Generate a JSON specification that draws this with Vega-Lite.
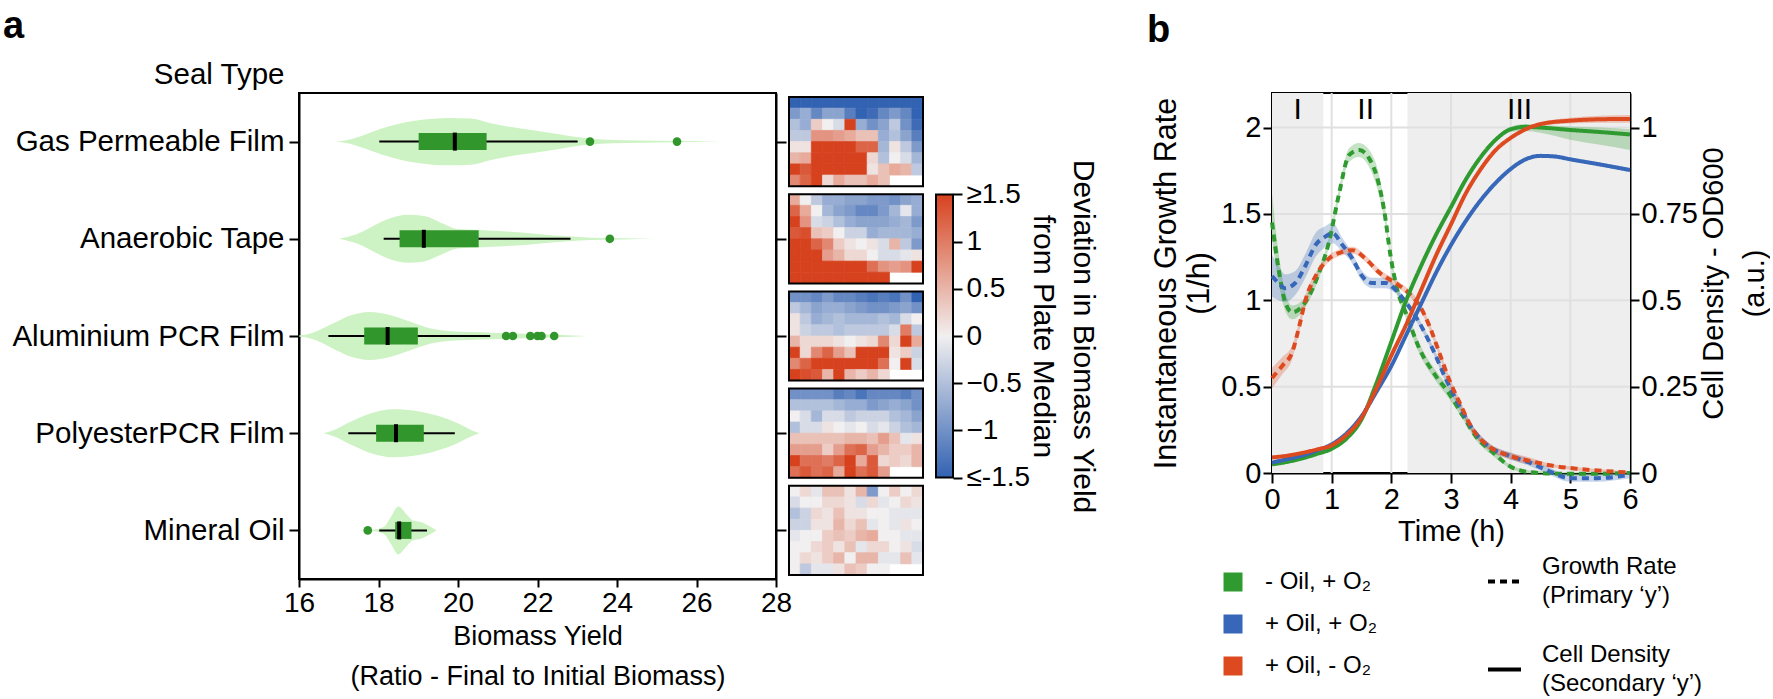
{
"$schema": "https://vega.github.io/schema/vega-lite/v6.json",
"background": "white",
"padding": {"left": 2, "top": 7, "right": 0, "bottom": 0},
"bounds": "flush",
"spacing": 13,
"config": {
  "font": "Liberation Sans",
  "view": {"stroke": "black", "strokeWidth": 2},
  "axis": {"domainColor": "black", "domainWidth": 2, "tickColor": "black", "tickWidth": 2, "labelColor": "black", "titleColor": "black", "grid": false, "titleFontWeight": "normal", "labelFont": "Liberation Sans", "titleFont": "Liberation Sans", "labelLimit": 400},
  "title": {"font": "Liberation Sans", "color": "black"},
  "legend": {"labelFont": "Liberation Sans", "labelColor": "black"},
  "text": {"font": "Liberation Sans"}
},
"resolve": {"scale": {"x": "independent", "y": "independent", "fill": "independent", "stroke": "independent", "color": "independent", "strokeDash": "independent"}, "legend": {"fill": "independent", "stroke": "independent", "color": "independent", "strokeDash": "independent"}},
"datasets": {
  "violin": [
    {"s":4,"x":16.93,"lo":4,"hi":4},{"s":4,"x":17.22,"lo":3.983,"hi":4.017},{"s":4,"x":17.64,"lo":3.931,"hi":4.069},{"s":4,"x":18.06,"lo":3.869,"hi":4.131},{"s":4,"x":18.57,"lo":3.811,"hi":4.189},{"s":4,"x":19.15,"lo":3.773,"hi":4.227},{"s":4,"x":19.74,"lo":3.756,"hi":4.244},{"s":4,"x":20.33,"lo":3.763,"hi":4.237},{"s":4,"x":20.83,"lo":3.811,"hi":4.189},{"s":4,"x":21.25,"lo":3.845,"hi":4.155},{"s":4,"x":21.84,"lo":3.88,"hi":4.12},{"s":4,"x":22.51,"lo":3.921,"hi":4.079},{"s":4,"x":23.09,"lo":3.959,"hi":4.041},{"s":4,"x":23.6,"lo":3.979,"hi":4.021},{"s":4,"x":24.18,"lo":3.986,"hi":4.014},{"s":4,"x":25.02,"lo":3.991,"hi":4.009},{"s":4,"x":25.86,"lo":3.995,"hi":4.005},{"s":4,"x":26.62,"lo":4,"hi":4},
    {"s":3,"x":17.01,"lo":3,"hi":3},{"s":3,"x":17.48,"lo":2.948,"hi":3.052},{"s":3,"x":17.98,"lo":2.845,"hi":3.155},{"s":3,"x":18.31,"lo":2.787,"hi":3.213},{"s":3,"x":18.73,"lo":2.753,"hi":3.247},{"s":3,"x":19.15,"lo":2.766,"hi":3.234},{"s":3,"x":19.57,"lo":2.835,"hi":3.165},{"s":3,"x":19.99,"lo":2.9,"hi":3.1},{"s":3,"x":20.49,"lo":2.91,"hi":3.09},{"s":3,"x":21.25,"lo":2.925,"hi":3.075},{"s":3,"x":22.09,"lo":2.952,"hi":3.048},{"s":3,"x":22.76,"lo":2.975,"hi":3.025},{"s":3,"x":23.35,"lo":2.988,"hi":3.012},{"s":3,"x":24.18,"lo":2.994,"hi":3.006},{"s":3,"x":24.94,"lo":3,"hi":3},
    {"s":2,"x":16.0,"lo":1.995,"hi":2.005},{"s":2,"x":16.3,"lo":1.973,"hi":2.027},{"s":2,"x":16.81,"lo":1.88,"hi":2.12},{"s":2,"x":17.31,"lo":1.787,"hi":2.213},{"s":2,"x":17.77,"lo":1.753,"hi":2.247},{"s":2,"x":18.31,"lo":1.787,"hi":2.213},{"s":2,"x":18.82,"lo":1.856,"hi":2.144},{"s":2,"x":19.32,"lo":1.924,"hi":2.076},{"s":2,"x":19.82,"lo":1.952,"hi":2.048},{"s":2,"x":20.33,"lo":1.959,"hi":2.041},{"s":2,"x":20.83,"lo":1.966,"hi":2.034},{"s":2,"x":21.67,"lo":1.976,"hi":2.024},{"s":2,"x":22.51,"lo":1.986,"hi":2.014},{"s":2,"x":23.26,"lo":2,"hi":2},
    {"s":1,"x":16.62,"lo":1,"hi":1},{"s":1,"x":16.89,"lo":0.966,"hi":1.034},{"s":1,"x":17.31,"lo":0.88,"hi":1.12},{"s":1,"x":17.81,"lo":0.794,"hi":1.206},{"s":1,"x":18.36,"lo":0.753,"hi":1.247},{"s":1,"x":18.99,"lo":0.773,"hi":1.227},{"s":1,"x":19.49,"lo":0.821,"hi":1.179},{"s":1,"x":19.99,"lo":0.897,"hi":1.103},{"s":1,"x":20.33,"lo":0.966,"hi":1.034},{"s":1,"x":20.54,"lo":1,"hi":1},
    {"s":0,"x":17.48,"lo":0,"hi":0},{"s":0,"x":17.9,"lo":-0.01,"hi":0.01},{"s":0,"x":18.15,"lo":-0.041,"hi":0.041},{"s":0,"x":18.31,"lo":-0.137,"hi":0.137},{"s":0,"x":18.5,"lo":-0.247,"hi":0.247},{"s":0,"x":18.69,"lo":-0.172,"hi":0.172},{"s":0,"x":18.86,"lo":-0.103,"hi":0.103},{"s":0,"x":19.07,"lo":-0.086,"hi":0.086},{"s":0,"x":19.24,"lo":-0.052,"hi":0.052},{"s":0,"x":19.46,"lo":0,"hi":0}
  ],
  "box": [
    {"s":4,"wlo":18.02,"q1":19.01,"med":19.92,"q3":20.72,"whi":23.01},
    {"s":3,"wlo":18.13,"q1":18.53,"med":19.14,"q3":20.52,"whi":22.83},
    {"s":2,"wlo":16.74,"q1":17.64,"med":18.23,"q3":18.99,"whi":20.81},
    {"s":1,"wlo":17.24,"q1":17.94,"med":18.44,"q3":19.14,"whi":19.92},
    {"s":0,"wlo":18.02,"q1":18.42,"med":18.52,"q3":18.83,"whi":19.22}
  ],
  "outliers": [
    {"s":4,"x":23.32},{"s":4,"x":25.51},{"s":3,"x":23.82},
    {"s":2,"x":21.21},{"s":2,"x":21.38},{"s":2,"x":21.82},{"s":2,"x":22.0},{"s":2,"x":22.1},{"s":2,"x":22.42},
    {"s":0,"x":17.73}
  ],
  "frames": [{"p":1},{"p":2},{"p":3},{"p":4},{"p":5}],
  "plates": [
{"p":1,"r":"A","c":1,"v":-1.5},{"p":1,"r":"A","c":2,"v":-1.5},{"p":1,"r":"A","c":3,"v":-1.5},{"p":1,"r":"A","c":4,"v":-1.5},{"p":1,"r":"A","c":5,"v":-1.5},{"p":1,"r":"A","c":6,"v":-1.5},{"p":1,"r":"A","c":7,"v":-1.5},{"p":1,"r":"A","c":8,"v":-1.5},{"p":1,"r":"A","c":9,"v":-1.5},{"p":1,"r":"A","c":10,"v":-1.5},{"p":1,"r":"A","c":11,"v":-1.5},{"p":1,"r":"A","c":12,"v":-1.5},
{"p":1,"r":"B","c":1,"v":-0.9},{"p":1,"r":"B","c":2,"v":-0.7},{"p":1,"r":"B","c":3,"v":-1.1},{"p":1,"r":"B","c":4,"v":-0.8},{"p":1,"r":"B","c":5,"v":-0.8},{"p":1,"r":"B","c":6,"v":-1.2},{"p":1,"r":"B","c":7,"v":-1.5},{"p":1,"r":"B","c":8,"v":-1.4},{"p":1,"r":"B","c":9,"v":-1.1},{"p":1,"r":"B","c":10,"v":-0.9},{"p":1,"r":"B","c":11,"v":-1.1},{"p":1,"r":"B","c":12,"v":-1.5},
{"p":1,"r":"C","c":1,"v":-0.5},{"p":1,"r":"C","c":2,"v":-0.7},{"p":1,"r":"C","c":3,"v":0.3},{"p":1,"r":"C","c":4,"v":0},{"p":1,"r":"C","c":5,"v":-0.2},{"p":1,"r":"C","c":6,"v":1.5},{"p":1,"r":"C","c":7,"v":-0.7},{"p":1,"r":"C","c":8,"v":-1},{"p":1,"r":"C","c":9,"v":-0.8},{"p":1,"r":"C","c":10,"v":-0.4},{"p":1,"r":"C","c":11,"v":-1},{"p":1,"r":"C","c":12,"v":-1.4},
{"p":1,"r":"D","c":1,"v":-0.4},{"p":1,"r":"D","c":2,"v":-0.4},{"p":1,"r":"D","c":3,"v":0.8},{"p":1,"r":"D","c":4,"v":0.8},{"p":1,"r":"D","c":5,"v":0.7},{"p":1,"r":"D","c":6,"v":0.6},{"p":1,"r":"D","c":7,"v":0.4},{"p":1,"r":"D","c":8,"v":0.4},{"p":1,"r":"D","c":9,"v":-0.7},{"p":1,"r":"D","c":10,"v":-0.5},{"p":1,"r":"D","c":11,"v":-0.8},{"p":1,"r":"D","c":12,"v":-1.2},
{"p":1,"r":"E","c":1,"v":0.1},{"p":1,"r":"E","c":2,"v":0.1},{"p":1,"r":"E","c":3,"v":1.5},{"p":1,"r":"E","c":4,"v":1.5},{"p":1,"r":"E","c":5,"v":1.5},{"p":1,"r":"E","c":6,"v":1.5},{"p":1,"r":"E","c":7,"v":1.2},{"p":1,"r":"E","c":8,"v":1.2},{"p":1,"r":"E","c":9,"v":-0.6},{"p":1,"r":"E","c":10,"v":0.1},{"p":1,"r":"E","c":11,"v":-0.4},{"p":1,"r":"E","c":12,"v":-0.9},
{"p":1,"r":"F","c":1,"v":0.5},{"p":1,"r":"F","c":2,"v":0.6},{"p":1,"r":"F","c":3,"v":1.5},{"p":1,"r":"F","c":4,"v":1.5},{"p":1,"r":"F","c":5,"v":1.5},{"p":1,"r":"F","c":6,"v":1.5},{"p":1,"r":"F","c":7,"v":1.5},{"p":1,"r":"F","c":8,"v":0.2},{"p":1,"r":"F","c":9,"v":-0.5},{"p":1,"r":"F","c":10,"v":0},{"p":1,"r":"F","c":11,"v":-0.2},{"p":1,"r":"F","c":12,"v":-0.6},
{"p":1,"r":"G","c":1,"v":1.5},{"p":1,"r":"G","c":2,"v":1.3},{"p":1,"r":"G","c":3,"v":1.5},{"p":1,"r":"G","c":4,"v":1.5},{"p":1,"r":"G","c":5,"v":1.5},{"p":1,"r":"G","c":6,"v":1.5},{"p":1,"r":"G","c":7,"v":1.5},{"p":1,"r":"G","c":8,"v":0.1},{"p":1,"r":"G","c":9,"v":0.4},{"p":1,"r":"G","c":10,"v":0.6},{"p":1,"r":"G","c":11,"v":0.5},{"p":1,"r":"G","c":12,"v":-0.4},
{"p":1,"r":"H","c":1,"v":0.9},{"p":1,"r":"H","c":2,"v":1.2},{"p":1,"r":"H","c":3,"v":1.5},{"p":1,"r":"H","c":4,"v":0.2},{"p":1,"r":"H","c":5,"v":0.6},{"p":1,"r":"H","c":6,"v":0.4},{"p":1,"r":"H","c":7,"v":0.4},{"p":1,"r":"H","c":8,"v":0.6},{"p":1,"r":"H","c":9,"v":0.4},
{"p":2,"r":"A","c":1,"v":0.6},{"p":2,"r":"A","c":2,"v":0},{"p":2,"r":"A","c":3,"v":-0.4},{"p":2,"r":"A","c":4,"v":-0.7},{"p":2,"r":"A","c":5,"v":-0.7},{"p":2,"r":"A","c":6,"v":-0.8},{"p":2,"r":"A","c":7,"v":-0.8},{"p":2,"r":"A","c":8,"v":-0.9},{"p":2,"r":"A","c":9,"v":-0.9},{"p":2,"r":"A","c":10,"v":-1},{"p":2,"r":"A","c":11,"v":-0.8},{"p":2,"r":"A","c":12,"v":-0.7},
{"p":2,"r":"B","c":1,"v":1.2},{"p":2,"r":"B","c":2,"v":0.6},{"p":2,"r":"B","c":3,"v":0},{"p":2,"r":"B","c":4,"v":-0.6},{"p":2,"r":"B","c":5,"v":-0.8},{"p":2,"r":"B","c":6,"v":-0.9},{"p":2,"r":"B","c":7,"v":-1.1},{"p":2,"r":"B","c":8,"v":-1.1},{"p":2,"r":"B","c":9,"v":-0.9},{"p":2,"r":"B","c":10,"v":-0.6},{"p":2,"r":"B","c":11,"v":-0.1},{"p":2,"r":"B","c":12,"v":-0.7},
{"p":2,"r":"C","c":1,"v":1.5},{"p":2,"r":"C","c":2,"v":0.8},{"p":2,"r":"C","c":3,"v":-0.2},{"p":2,"r":"C","c":4,"v":-0.3},{"p":2,"r":"C","c":5,"v":-0.5},{"p":2,"r":"C","c":6,"v":-0.7},{"p":2,"r":"C","c":7,"v":-0.8},{"p":2,"r":"C","c":8,"v":-0.8},{"p":2,"r":"C","c":9,"v":-0.8},{"p":2,"r":"C","c":10,"v":-0.7},{"p":2,"r":"C","c":11,"v":-0.6},{"p":2,"r":"C","c":12,"v":-0.9},
{"p":2,"r":"D","c":1,"v":1.3},{"p":2,"r":"D","c":2,"v":1.4},{"p":2,"r":"D","c":3,"v":0.4},{"p":2,"r":"D","c":4,"v":0.3},{"p":2,"r":"D","c":5,"v":0},{"p":2,"r":"D","c":6,"v":-0.3},{"p":2,"r":"D","c":7,"v":-0.3},{"p":2,"r":"D","c":8,"v":-0.7},{"p":2,"r":"D","c":9,"v":-0.6},{"p":2,"r":"D","c":10,"v":-0.6},{"p":2,"r":"D","c":11,"v":-0.6},{"p":2,"r":"D","c":12,"v":-0.7},
{"p":2,"r":"E","c":1,"v":1.5},{"p":2,"r":"E","c":2,"v":1.5},{"p":2,"r":"E","c":3,"v":1.2},{"p":2,"r":"E","c":4,"v":0.9},{"p":2,"r":"E","c":5,"v":0.3},{"p":2,"r":"E","c":6,"v":0.1},{"p":2,"r":"E","c":7,"v":0},{"p":2,"r":"E","c":8,"v":0.1},{"p":2,"r":"E","c":9,"v":-0.2},{"p":2,"r":"E","c":10,"v":0.5},{"p":2,"r":"E","c":11,"v":-0.4},{"p":2,"r":"E","c":12,"v":-0.9},
{"p":2,"r":"F","c":1,"v":1.5},{"p":2,"r":"F","c":2,"v":1.5},{"p":2,"r":"F","c":3,"v":1.5},{"p":2,"r":"F","c":4,"v":0.7},{"p":2,"r":"F","c":5,"v":0.5},{"p":2,"r":"F","c":6,"v":0.2},{"p":2,"r":"F","c":7,"v":0.2},{"p":2,"r":"F","c":8,"v":0},{"p":2,"r":"F","c":9,"v":-0.2},{"p":2,"r":"F","c":10,"v":-0.2},{"p":2,"r":"F","c":11,"v":-0.1},{"p":2,"r":"F","c":12,"v":0.1},
{"p":2,"r":"G","c":1,"v":1.5},{"p":2,"r":"G","c":2,"v":1.5},{"p":2,"r":"G","c":3,"v":1.5},{"p":2,"r":"G","c":4,"v":1.5},{"p":2,"r":"G","c":5,"v":1.5},{"p":2,"r":"G","c":6,"v":1.5},{"p":2,"r":"G","c":7,"v":1.5},{"p":2,"r":"G","c":8,"v":1.1},{"p":2,"r":"G","c":9,"v":0.8},{"p":2,"r":"G","c":10,"v":0.7},{"p":2,"r":"G","c":11,"v":0.8},{"p":2,"r":"G","c":12,"v":1.5},
{"p":2,"r":"H","c":1,"v":1.5},{"p":2,"r":"H","c":2,"v":1.5},{"p":2,"r":"H","c":3,"v":1.5},{"p":2,"r":"H","c":4,"v":1.5},{"p":2,"r":"H","c":5,"v":1.5},{"p":2,"r":"H","c":6,"v":1.5},{"p":2,"r":"H","c":7,"v":1.5},{"p":2,"r":"H","c":8,"v":1.5},{"p":2,"r":"H","c":9,"v":1.5},
{"p":3,"r":"A","c":1,"v":-1},{"p":3,"r":"A","c":2,"v":-1},{"p":3,"r":"A","c":3,"v":-1.1},{"p":3,"r":"A","c":4,"v":-0.9},{"p":3,"r":"A","c":5,"v":-1.1},{"p":3,"r":"A","c":6,"v":-1.1},{"p":3,"r":"A","c":7,"v":-1.2},{"p":3,"r":"A","c":8,"v":-1.3},{"p":3,"r":"A","c":9,"v":-1.2},{"p":3,"r":"A","c":10,"v":-1.3},{"p":3,"r":"A","c":11,"v":-1},{"p":3,"r":"A","c":12,"v":-1.5},
{"p":3,"r":"B","c":1,"v":-0.4},{"p":3,"r":"B","c":2,"v":-0.6},{"p":3,"r":"B","c":3,"v":-0.8},{"p":3,"r":"B","c":4,"v":-0.7},{"p":3,"r":"B","c":5,"v":-0.7},{"p":3,"r":"B","c":6,"v":-0.8},{"p":3,"r":"B","c":7,"v":-0.9},{"p":3,"r":"B","c":8,"v":-1},{"p":3,"r":"B","c":9,"v":-1},{"p":3,"r":"B","c":10,"v":-0.9},{"p":3,"r":"B","c":11,"v":-0.8},{"p":3,"r":"B","c":12,"v":-1},
{"p":3,"r":"C","c":1,"v":0.1},{"p":3,"r":"C","c":2,"v":-0.4},{"p":3,"r":"C","c":3,"v":-0.7},{"p":3,"r":"C","c":4,"v":-0.6},{"p":3,"r":"C","c":5,"v":-0.5},{"p":3,"r":"C","c":6,"v":-0.6},{"p":3,"r":"C","c":7,"v":-0.6},{"p":3,"r":"C","c":8,"v":-0.6},{"p":3,"r":"C","c":9,"v":-0.5},{"p":3,"r":"C","c":10,"v":-0.6},{"p":3,"r":"C","c":11,"v":-0.2},{"p":3,"r":"C","c":12,"v":0},
{"p":3,"r":"D","c":1,"v":0.1},{"p":3,"r":"D","c":2,"v":-0.3},{"p":3,"r":"D","c":3,"v":-0.4},{"p":3,"r":"D","c":4,"v":-0.4},{"p":3,"r":"D","c":5,"v":-0.5},{"p":3,"r":"D","c":6,"v":-0.4},{"p":3,"r":"D","c":7,"v":-0.4},{"p":3,"r":"D","c":8,"v":-0.4},{"p":3,"r":"D","c":9,"v":-0.4},{"p":3,"r":"D","c":10,"v":-0.2},{"p":3,"r":"D","c":11,"v":1},{"p":3,"r":"D","c":12,"v":-0.4},
{"p":3,"r":"E","c":1,"v":0.5},{"p":3,"r":"E","c":2,"v":0.2},{"p":3,"r":"E","c":3,"v":0.2},{"p":3,"r":"E","c":4,"v":0.2},{"p":3,"r":"E","c":5,"v":0.1},{"p":3,"r":"E","c":6,"v":0},{"p":3,"r":"E","c":7,"v":0.1},{"p":3,"r":"E","c":8,"v":0.2},{"p":3,"r":"E","c":9,"v":0.9},{"p":3,"r":"E","c":10,"v":0.2},{"p":3,"r":"E","c":11,"v":1.5},{"p":3,"r":"E","c":12,"v":0.6},
{"p":3,"r":"F","c":1,"v":1.5},{"p":3,"r":"F","c":2,"v":0.2},{"p":3,"r":"F","c":3,"v":0.9},{"p":3,"r":"F","c":4,"v":1.2},{"p":3,"r":"F","c":5,"v":0.7},{"p":3,"r":"F","c":6,"v":0.4},{"p":3,"r":"F","c":7,"v":1.5},{"p":3,"r":"F","c":8,"v":1.5},{"p":3,"r":"F","c":9,"v":1.5},{"p":3,"r":"F","c":10,"v":0.1},{"p":3,"r":"F","c":11,"v":0.3},{"p":3,"r":"F","c":12,"v":-0.3},
{"p":3,"r":"G","c":1,"v":0.9},{"p":3,"r":"G","c":2,"v":1.2},{"p":3,"r":"G","c":3,"v":1.5},{"p":3,"r":"G","c":4,"v":1.5},{"p":3,"r":"G","c":5,"v":1.5},{"p":3,"r":"G","c":6,"v":1.5},{"p":3,"r":"G","c":7,"v":1.5},{"p":3,"r":"G","c":8,"v":1.5},{"p":3,"r":"G","c":9,"v":1.1},{"p":3,"r":"G","c":10,"v":0},{"p":3,"r":"G","c":11,"v":1.5},{"p":3,"r":"G","c":12,"v":-0.2},
{"p":3,"r":"H","c":1,"v":1.5},{"p":3,"r":"H","c":2,"v":1.4},{"p":3,"r":"H","c":3,"v":1.3},{"p":3,"r":"H","c":4,"v":0.5},{"p":3,"r":"H","c":5,"v":1.5},{"p":3,"r":"H","c":6,"v":0.5},{"p":3,"r":"H","c":7,"v":0.3},{"p":3,"r":"H","c":8,"v":0.5},{"p":3,"r":"H","c":9,"v":0.2},
{"p":4,"r":"A","c":1,"v":-1},{"p":4,"r":"A","c":2,"v":-1},{"p":4,"r":"A","c":3,"v":-1},{"p":4,"r":"A","c":4,"v":-1},{"p":4,"r":"A","c":5,"v":-1.2},{"p":4,"r":"A","c":6,"v":-1.1},{"p":4,"r":"A","c":7,"v":-1.3},{"p":4,"r":"A","c":8,"v":-1.1},{"p":4,"r":"A","c":9,"v":-1.1},{"p":4,"r":"A","c":10,"v":-1.1},{"p":4,"r":"A","c":11,"v":-1.2},{"p":4,"r":"A","c":12,"v":-1},
{"p":4,"r":"B","c":1,"v":-0.5},{"p":4,"r":"B","c":2,"v":-0.5},{"p":4,"r":"B","c":3,"v":-0.5},{"p":4,"r":"B","c":4,"v":-0.5},{"p":4,"r":"B","c":5,"v":-0.6},{"p":4,"r":"B","c":6,"v":-0.7},{"p":4,"r":"B","c":7,"v":-0.7},{"p":4,"r":"B","c":8,"v":-0.9},{"p":4,"r":"B","c":9,"v":-0.8},{"p":4,"r":"B","c":10,"v":-0.7},{"p":4,"r":"B","c":11,"v":-0.8},{"p":4,"r":"B","c":12,"v":-1},
{"p":4,"r":"C","c":1,"v":0},{"p":4,"r":"C","c":2,"v":-0.2},{"p":4,"r":"C","c":3,"v":-0.6},{"p":4,"r":"C","c":4,"v":-0.2},{"p":4,"r":"C","c":5,"v":-0.2},{"p":4,"r":"C","c":6,"v":-0.4},{"p":4,"r":"C","c":7,"v":-0.3},{"p":4,"r":"C","c":8,"v":-0.3},{"p":4,"r":"C","c":9,"v":-0.3},{"p":4,"r":"C","c":10,"v":-0.5},{"p":4,"r":"C","c":11,"v":-0.6},{"p":4,"r":"C","c":12,"v":-0.8},
{"p":4,"r":"D","c":1,"v":-0.5},{"p":4,"r":"D","c":2,"v":-0.2},{"p":4,"r":"D","c":3,"v":-0.2},{"p":4,"r":"D","c":4,"v":0.1},{"p":4,"r":"D","c":5,"v":0},{"p":4,"r":"D","c":6,"v":-0.1},{"p":4,"r":"D","c":7,"v":0},{"p":4,"r":"D","c":8,"v":-0.2},{"p":4,"r":"D","c":9,"v":-0.1},{"p":4,"r":"D","c":10,"v":-0.3},{"p":4,"r":"D","c":11,"v":-0.5},{"p":4,"r":"D","c":12,"v":-0.6},
{"p":4,"r":"E","c":1,"v":0.4},{"p":4,"r":"E","c":2,"v":0.4},{"p":4,"r":"E","c":3,"v":0.4},{"p":4,"r":"E","c":4,"v":0.4},{"p":4,"r":"E","c":5,"v":0.4},{"p":4,"r":"E","c":6,"v":0.5},{"p":4,"r":"E","c":7,"v":0.5},{"p":4,"r":"E","c":8,"v":0.4},{"p":4,"r":"E","c":9,"v":0.7},{"p":4,"r":"E","c":10,"v":0.4},{"p":4,"r":"E","c":11,"v":-0.1},{"p":4,"r":"E","c":12,"v":0.1},
{"p":4,"r":"F","c":1,"v":0.7},{"p":4,"r":"F","c":2,"v":0.7},{"p":4,"r":"F","c":3,"v":0.7},{"p":4,"r":"F","c":4,"v":0.3},{"p":4,"r":"F","c":5,"v":0.7},{"p":4,"r":"F","c":6,"v":1.1},{"p":4,"r":"F","c":7,"v":1.2},{"p":4,"r":"F","c":8,"v":0.7},{"p":4,"r":"F","c":9,"v":0.5},{"p":4,"r":"F","c":10,"v":0.3},{"p":4,"r":"F","c":11,"v":0.3},{"p":4,"r":"F","c":12,"v":0.5},
{"p":4,"r":"G","c":1,"v":1.5},{"p":4,"r":"G","c":2,"v":1.1},{"p":4,"r":"G","c":3,"v":1.1},{"p":4,"r":"G","c":4,"v":1},{"p":4,"r":"G","c":5,"v":1.2},{"p":4,"r":"G","c":6,"v":1.5},{"p":4,"r":"G","c":7,"v":0.6},{"p":4,"r":"G","c":8,"v":1.3},{"p":4,"r":"G","c":9,"v":0.2},{"p":4,"r":"G","c":10,"v":0.3},{"p":4,"r":"G","c":11,"v":0.2},{"p":4,"r":"G","c":12,"v":0.5},
{"p":4,"r":"H","c":1,"v":1.1},{"p":4,"r":"H","c":2,"v":1.3},{"p":4,"r":"H","c":3,"v":1.1},{"p":4,"r":"H","c":4,"v":1.2},{"p":4,"r":"H","c":5,"v":0.6},{"p":4,"r":"H","c":6,"v":1.5},{"p":4,"r":"H","c":7,"v":1.1},{"p":4,"r":"H","c":8,"v":1.3},{"p":4,"r":"H","c":9,"v":0.7},
{"p":5,"r":"A","c":1,"v":0},{"p":5,"r":"A","c":2,"v":0.2},{"p":5,"r":"A","c":3,"v":-0.1},{"p":5,"r":"A","c":4,"v":0.4},{"p":5,"r":"A","c":5,"v":0.4},{"p":5,"r":"A","c":6,"v":0.1},{"p":5,"r":"A","c":7,"v":0.5},{"p":5,"r":"A","c":8,"v":-0.9},{"p":5,"r":"A","c":9,"v":0},{"p":5,"r":"A","c":10,"v":0.3},{"p":5,"r":"A","c":11,"v":0},{"p":5,"r":"A","c":12,"v":0.2},
{"p":5,"r":"B","c":1,"v":-0.2},{"p":5,"r":"B","c":2,"v":0},{"p":5,"r":"B","c":3,"v":0},{"p":5,"r":"B","c":4,"v":0.2},{"p":5,"r":"B","c":5,"v":0.2},{"p":5,"r":"B","c":6,"v":0.1},{"p":5,"r":"B","c":7,"v":-0.2},{"p":5,"r":"B","c":8,"v":0.2},{"p":5,"r":"B","c":9,"v":-0.1},{"p":5,"r":"B","c":10,"v":0},{"p":5,"r":"B","c":11,"v":0.2},{"p":5,"r":"B","c":12,"v":0.1},
{"p":5,"r":"C","c":1,"v":-0.5},{"p":5,"r":"C","c":2,"v":-0.3},{"p":5,"r":"C","c":3,"v":0.2},{"p":5,"r":"C","c":4,"v":0.1},{"p":5,"r":"C","c":5,"v":0.4},{"p":5,"r":"C","c":6,"v":0.1},{"p":5,"r":"C","c":7,"v":0.1},{"p":5,"r":"C","c":8,"v":0},{"p":5,"r":"C","c":9,"v":0},{"p":5,"r":"C","c":10,"v":-0.1},{"p":5,"r":"C","c":11,"v":-0.1},{"p":5,"r":"C","c":12,"v":-0.1},
{"p":5,"r":"D","c":1,"v":-0.3},{"p":5,"r":"D","c":2,"v":-0.3},{"p":5,"r":"D","c":3,"v":0.1},{"p":5,"r":"D","c":4,"v":0.1},{"p":5,"r":"D","c":5,"v":0.5},{"p":5,"r":"D","c":6,"v":0.2},{"p":5,"r":"D","c":7,"v":0.4},{"p":5,"r":"D","c":8,"v":-0.1},{"p":5,"r":"D","c":9,"v":0},{"p":5,"r":"D","c":10,"v":-0.1},{"p":5,"r":"D","c":11,"v":0.1},{"p":5,"r":"D","c":12,"v":0},
{"p":5,"r":"E","c":1,"v":-0.1},{"p":5,"r":"E","c":2,"v":0},{"p":5,"r":"E","c":3,"v":0},{"p":5,"r":"E","c":4,"v":0.3},{"p":5,"r":"E","c":5,"v":0.4},{"p":5,"r":"E","c":6,"v":0.3},{"p":5,"r":"E","c":7,"v":0.5},{"p":5,"r":"E","c":8,"v":0.6},{"p":5,"r":"E","c":9,"v":0},{"p":5,"r":"E","c":10,"v":0},{"p":5,"r":"E","c":11,"v":-0.1},{"p":5,"r":"E","c":12,"v":-0.1},
{"p":5,"r":"F","c":1,"v":0},{"p":5,"r":"F","c":2,"v":0},{"p":5,"r":"F","c":3,"v":0.2},{"p":5,"r":"F","c":4,"v":0.3},{"p":5,"r":"F","c":5,"v":0.1},{"p":5,"r":"F","c":6,"v":0.4},{"p":5,"r":"F","c":7,"v":-0.1},{"p":5,"r":"F","c":8,"v":0.2},{"p":5,"r":"F","c":9,"v":0.2},{"p":5,"r":"F","c":10,"v":0},{"p":5,"r":"F","c":11,"v":0.1},{"p":5,"r":"F","c":12,"v":-0.2},
{"p":5,"r":"G","c":1,"v":0},{"p":5,"r":"G","c":2,"v":0.2},{"p":5,"r":"G","c":3,"v":0.1},{"p":5,"r":"G","c":4,"v":0.3},{"p":5,"r":"G","c":5,"v":0.5},{"p":5,"r":"G","c":6,"v":0},{"p":5,"r":"G","c":7,"v":0.5},{"p":5,"r":"G","c":8,"v":0.5},{"p":5,"r":"G","c":9,"v":-0.1},{"p":5,"r":"G","c":10,"v":-0.1},{"p":5,"r":"G","c":11,"v":0.4},{"p":5,"r":"G","c":12,"v":-0.1},
{"p":5,"r":"H","c":1,"v":0},{"p":5,"r":"H","c":2,"v":-0.4},{"p":5,"r":"H","c":3,"v":-0.1},{"p":5,"r":"H","c":4,"v":-0.1},{"p":5,"r":"H","c":5,"v":0.1},{"p":5,"r":"H","c":6,"v":0.4},{"p":5,"r":"H","c":7,"v":0.3},{"p":5,"r":"H","c":8,"v":0},{"p":5,"r":"H","c":9,"v":0}
  ],
  "phases": [{"t0":0,"t1":0.86},{"t0":2.27,"t1":6}],
  "gridx": [{"t":1},{"t":2},{"t":3},{"t":4},{"t":5}],
  "gridy": [{"g":0.5},{"g":1},{"g":1.5},{"g":2}],
  "phaselabels": [{"t":0.43,"g":2.1,"txt":"I"},{"t":1.57,"g":2.1,"txt":"II"},{"t":4.15,"g":2.1,"txt":"III"}],
  "growth": [
{"cond":"- Oil, + O₂","t":0,"v":1.45,"lo":1.36,"hi":1.62},{"cond":"- Oil, + O₂","t":0.11,"v":1.18,"lo":1.11,"hi":1.28},{"cond":"- Oil, + O₂","t":0.22,"v":0.99,"lo":0.94,"hi":1.05},{"cond":"- Oil, + O₂","t":0.34,"v":0.93,"lo":0.89,"hi":0.97},{"cond":"- Oil, + O₂","t":0.56,"v":0.99,"lo":0.96,"hi":1.02},{"cond":"- Oil, + O₂","t":0.79,"v":1.16,"lo":1.13,"hi":1.19},{"cond":"- Oil, + O₂","t":0.95,"v":1.33,"lo":1.3,"hi":1.36},{"cond":"- Oil, + O₂","t":1.12,"v":1.61,"lo":1.58,"hi":1.64},{"cond":"- Oil, + O₂","t":1.29,"v":1.84,"lo":1.8,"hi":1.88},{"cond":"- Oil, + O₂","t":1.46,"v":1.87,"lo":1.83,"hi":1.91},{"cond":"- Oil, + O₂","t":1.63,"v":1.82,"lo":1.77,"hi":1.87},{"cond":"- Oil, + O₂","t":1.77,"v":1.7,"lo":1.64,"hi":1.76},{"cond":"- Oil, + O₂","t":1.88,"v":1.52,"lo":1.47,"hi":1.57},{"cond":"- Oil, + O₂","t":1.99,"v":1.25,"lo":1.22,"hi":1.28},{"cond":"- Oil, + O₂","t":2.1,"v":1.06,"lo":1.03,"hi":1.09},{"cond":"- Oil, + O₂","t":2.24,"v":0.93,"lo":0.9,"hi":0.96},{"cond":"- Oil, + O₂","t":2.47,"v":0.72,"lo":0.69,"hi":0.75},{"cond":"- Oil, + O₂","t":2.75,"v":0.56,"lo":0.53,"hi":0.59},{"cond":"- Oil, + O₂","t":2.97,"v":0.46,"lo":0.43,"hi":0.49},{"cond":"- Oil, + O₂","t":3.2,"v":0.33,"lo":0.31,"hi":0.35},{"cond":"- Oil, + O₂","t":3.42,"v":0.21,"lo":0.19,"hi":0.23},{"cond":"- Oil, + O₂","t":3.7,"v":0.12,"lo":0.1,"hi":0.14},{"cond":"- Oil, + O₂","t":3.98,"v":0.04,"lo":0.03,"hi":0.05},{"cond":"- Oil, + O₂","t":4.32,"v":0.005,"lo":-0.005,"hi":0.015},{"cond":"- Oil, + O₂","t":4.88,"v":-0.005,"lo":-0.015,"hi":0.005},{"cond":"- Oil, + O₂","t":5.44,"v":-0.005,"lo":-0.015,"hi":0.005},{"cond":"- Oil, + O₂","t":6,"v":0,"lo":-0.01,"hi":0.01},
{"cond":"+ Oil, + O₂","t":0,"v":1.14,"lo":1.02,"hi":1.26},{"cond":"+ Oil, + O₂","t":0.11,"v":1.1,"lo":1.0,"hi":1.2},{"cond":"+ Oil, + O₂","t":0.22,"v":1.07,"lo":0.99,"hi":1.15},{"cond":"+ Oil, + O₂","t":0.39,"v":1.1,"lo":1.03,"hi":1.17},{"cond":"+ Oil, + O₂","t":0.56,"v":1.2,"lo":1.13,"hi":1.27},{"cond":"+ Oil, + O₂","t":0.73,"v":1.32,"lo":1.25,"hi":1.39},{"cond":"+ Oil, + O₂","t":0.9,"v":1.37,"lo":1.31,"hi":1.43},{"cond":"+ Oil, + O₂","t":1.01,"v":1.39,"lo":1.33,"hi":1.45},{"cond":"+ Oil, + O₂","t":1.18,"v":1.32,"lo":1.28,"hi":1.36},{"cond":"+ Oil, + O₂","t":1.35,"v":1.24,"lo":1.21,"hi":1.27},{"cond":"+ Oil, + O₂","t":1.51,"v":1.14,"lo":1.11,"hi":1.17},{"cond":"+ Oil, + O₂","t":1.68,"v":1.1,"lo":1.07,"hi":1.13},{"cond":"+ Oil, + O₂","t":1.91,"v":1.1,"lo":1.07,"hi":1.13},{"cond":"+ Oil, + O₂","t":2.07,"v":1.06,"lo":1.04,"hi":1.08},{"cond":"+ Oil, + O₂","t":2.24,"v":0.99,"lo":0.97,"hi":1.01},{"cond":"+ Oil, + O₂","t":2.47,"v":0.87,"lo":0.85,"hi":0.89},{"cond":"+ Oil, + O₂","t":2.69,"v":0.72,"lo":0.7,"hi":0.74},{"cond":"+ Oil, + O₂","t":2.92,"v":0.54,"lo":0.52,"hi":0.56},{"cond":"+ Oil, + O₂","t":3.14,"v":0.39,"lo":0.37,"hi":0.41},{"cond":"+ Oil, + O₂","t":3.37,"v":0.25,"lo":0.23,"hi":0.27},{"cond":"+ Oil, + O₂","t":3.65,"v":0.15,"lo":0.13,"hi":0.17},{"cond":"+ Oil, + O₂","t":3.98,"v":0.1,"lo":0.08,"hi":0.12},{"cond":"+ Oil, + O₂","t":4.32,"v":0.06,"lo":0.04,"hi":0.08},{"cond":"+ Oil, + O₂","t":4.65,"v":0.01,"lo":-0.01,"hi":0.03},{"cond":"+ Oil, + O₂","t":4.99,"v":-0.03,"lo":-0.05,"hi":-0.01},{"cond":"+ Oil, + O₂","t":5.44,"v":-0.03,"lo":-0.05,"hi":-0.01},{"cond":"+ Oil, + O₂","t":6,"v":-0.01,"lo":-0.03,"hi":0.01},
{"cond":"+ Oil, - O₂","t":0,"v":0.55,"lo":0.49,"hi":0.61},{"cond":"+ Oil, - O₂","t":0.17,"v":0.62,"lo":0.57,"hi":0.67},{"cond":"+ Oil, - O₂","t":0.34,"v":0.7,"lo":0.66,"hi":0.74},{"cond":"+ Oil, - O₂","t":0.45,"v":0.84,"lo":0.81,"hi":0.87},{"cond":"+ Oil, - O₂","t":0.56,"v":1.0,"lo":0.97,"hi":1.03},{"cond":"+ Oil, - O₂","t":0.73,"v":1.14,"lo":1.12,"hi":1.16},{"cond":"+ Oil, - O₂","t":0.95,"v":1.24,"lo":1.22,"hi":1.26},{"cond":"+ Oil, - O₂","t":1.18,"v":1.28,"lo":1.26,"hi":1.3},{"cond":"+ Oil, - O₂","t":1.35,"v":1.29,"lo":1.27,"hi":1.31},{"cond":"+ Oil, - O₂","t":1.57,"v":1.24,"lo":1.22,"hi":1.26},{"cond":"+ Oil, - O₂","t":1.8,"v":1.16,"lo":1.14,"hi":1.18},{"cond":"+ Oil, - O₂","t":2.07,"v":1.1,"lo":1.08,"hi":1.12},{"cond":"+ Oil, - O₂","t":2.3,"v":1.04,"lo":1.02,"hi":1.06},{"cond":"+ Oil, - O₂","t":2.47,"v":0.97,"lo":0.95,"hi":0.99},{"cond":"+ Oil, - O₂","t":2.64,"v":0.85,"lo":0.83,"hi":0.87},{"cond":"+ Oil, - O₂","t":2.8,"v":0.7,"lo":0.68,"hi":0.72},{"cond":"+ Oil, - O₂","t":2.97,"v":0.54,"lo":0.52,"hi":0.56},{"cond":"+ Oil, - O₂","t":3.14,"v":0.41,"lo":0.39,"hi":0.43},{"cond":"+ Oil, - O₂","t":3.37,"v":0.25,"lo":0.23,"hi":0.27},{"cond":"+ Oil, - O₂","t":3.65,"v":0.15,"lo":0.13,"hi":0.17},{"cond":"+ Oil, - O₂","t":3.98,"v":0.1,"lo":0.08,"hi":0.12},{"cond":"+ Oil, - O₂","t":4.32,"v":0.07,"lo":0.05,"hi":0.09},{"cond":"+ Oil, - O₂","t":4.65,"v":0.045,"lo":0.035,"hi":0.055},{"cond":"+ Oil, - O₂","t":5.1,"v":0.025,"lo":0.015,"hi":0.035},{"cond":"+ Oil, - O₂","t":5.55,"v":0.012,"lo":0.005,"hi":0.02},{"cond":"+ Oil, - O₂","t":6,"v":0.003,"lo":-0.004,"hi":0.01}
  ],
  "density": [
{"cond":"- Oil, + O₂","t":0,"v":0.025,"lo":0.02,"hi":0.03},{"cond":"- Oil, + O₂","t":0.25,"v":0.032,"lo":0.027,"hi":0.037},{"cond":"- Oil, + O₂","t":0.5,"v":0.042,"lo":0.037,"hi":0.047},{"cond":"- Oil, + O₂","t":0.75,"v":0.055,"lo":0.05,"hi":0.06},{"cond":"- Oil, + O₂","t":1,"v":0.07,"lo":0.065,"hi":0.075},{"cond":"- Oil, + O₂","t":1.25,"v":0.1,"lo":0.095,"hi":0.105},{"cond":"- Oil, + O₂","t":1.5,"v":0.155,"lo":0.15,"hi":0.16},{"cond":"- Oil, + O₂","t":1.75,"v":0.26,"lo":0.255,"hi":0.265},{"cond":"- Oil, + O₂","t":2,"v":0.38,"lo":0.375,"hi":0.385},{"cond":"- Oil, + O₂","t":2.25,"v":0.5,"lo":0.495,"hi":0.505},{"cond":"- Oil, + O₂","t":2.5,"v":0.6,"lo":0.595,"hi":0.605},{"cond":"- Oil, + O₂","t":2.75,"v":0.69,"lo":0.685,"hi":0.695},{"cond":"- Oil, + O₂","t":3,"v":0.77,"lo":0.765,"hi":0.775},{"cond":"- Oil, + O₂","t":3.25,"v":0.85,"lo":0.845,"hi":0.855},{"cond":"- Oil, + O₂","t":3.5,"v":0.915,"lo":0.91,"hi":0.92},{"cond":"- Oil, + O₂","t":3.75,"v":0.965,"lo":0.96,"hi":0.97},{"cond":"- Oil, + O₂","t":4,"v":0.995,"lo":0.988,"hi":1.002},{"cond":"- Oil, + O₂","t":4.25,"v":1.002,"lo":0.99,"hi":1.01},{"cond":"- Oil, + O₂","t":4.5,"v":1.0,"lo":0.985,"hi":1.008},{"cond":"- Oil, + O₂","t":5,"v":0.993,"lo":0.965,"hi":1.003},{"cond":"- Oil, + O₂","t":5.5,"v":0.987,"lo":0.95,"hi":1.0},{"cond":"- Oil, + O₂","t":6,"v":0.98,"lo":0.935,"hi":0.995},
{"cond":"+ Oil, + O₂","t":0,"v":0.03,"lo":0.025,"hi":0.035},{"cond":"+ Oil, + O₂","t":0.25,"v":0.04,"lo":0.035,"hi":0.045},{"cond":"+ Oil, + O₂","t":0.5,"v":0.05,"lo":0.045,"hi":0.055},{"cond":"+ Oil, + O₂","t":0.75,"v":0.065,"lo":0.06,"hi":0.07},{"cond":"+ Oil, + O₂","t":1,"v":0.083,"lo":0.078,"hi":0.088},{"cond":"+ Oil, + O₂","t":1.25,"v":0.115,"lo":0.11,"hi":0.12},{"cond":"+ Oil, + O₂","t":1.5,"v":0.164,"lo":0.159,"hi":0.169},{"cond":"+ Oil, + O₂","t":1.75,"v":0.235,"lo":0.23,"hi":0.24},{"cond":"+ Oil, + O₂","t":2,"v":0.31,"lo":0.305,"hi":0.315},{"cond":"+ Oil, + O₂","t":2.25,"v":0.4,"lo":0.395,"hi":0.405},{"cond":"+ Oil, + O₂","t":2.5,"v":0.49,"lo":0.485,"hi":0.495},{"cond":"+ Oil, + O₂","t":2.75,"v":0.58,"lo":0.575,"hi":0.585},{"cond":"+ Oil, + O₂","t":3,"v":0.66,"lo":0.655,"hi":0.665},{"cond":"+ Oil, + O₂","t":3.25,"v":0.73,"lo":0.725,"hi":0.735},{"cond":"+ Oil, + O₂","t":3.5,"v":0.79,"lo":0.785,"hi":0.795},{"cond":"+ Oil, + O₂","t":3.75,"v":0.84,"lo":0.835,"hi":0.845},{"cond":"+ Oil, + O₂","t":4,"v":0.88,"lo":0.875,"hi":0.885},{"cond":"+ Oil, + O₂","t":4.25,"v":0.908,"lo":0.903,"hi":0.913},{"cond":"+ Oil, + O₂","t":4.5,"v":0.918,"lo":0.913,"hi":0.923},{"cond":"+ Oil, + O₂","t":4.75,"v":0.916,"lo":0.911,"hi":0.921},{"cond":"+ Oil, + O₂","t":5,"v":0.908,"lo":0.903,"hi":0.913},{"cond":"+ Oil, + O₂","t":5.5,"v":0.893,"lo":0.888,"hi":0.898},{"cond":"+ Oil, + O₂","t":6,"v":0.877,"lo":0.871,"hi":0.883},
{"cond":"+ Oil, - O₂","t":0,"v":0.045,"lo":0.04,"hi":0.05},{"cond":"+ Oil, - O₂","t":0.25,"v":0.05,"lo":0.045,"hi":0.055},{"cond":"+ Oil, - O₂","t":0.5,"v":0.058,"lo":0.053,"hi":0.063},{"cond":"+ Oil, - O₂","t":0.75,"v":0.068,"lo":0.063,"hi":0.073},{"cond":"+ Oil, - O₂","t":1,"v":0.08,"lo":0.075,"hi":0.085},{"cond":"+ Oil, - O₂","t":1.25,"v":0.11,"lo":0.105,"hi":0.115},{"cond":"+ Oil, - O₂","t":1.5,"v":0.16,"lo":0.155,"hi":0.165},{"cond":"+ Oil, - O₂","t":1.75,"v":0.245,"lo":0.24,"hi":0.25},{"cond":"+ Oil, - O₂","t":2,"v":0.34,"lo":0.335,"hi":0.345},{"cond":"+ Oil, - O₂","t":2.25,"v":0.43,"lo":0.425,"hi":0.435},{"cond":"+ Oil, - O₂","t":2.5,"v":0.53,"lo":0.525,"hi":0.535},{"cond":"+ Oil, - O₂","t":2.75,"v":0.63,"lo":0.625,"hi":0.635},{"cond":"+ Oil, - O₂","t":3,"v":0.72,"lo":0.715,"hi":0.725},{"cond":"+ Oil, - O₂","t":3.25,"v":0.81,"lo":0.805,"hi":0.815},{"cond":"+ Oil, - O₂","t":3.5,"v":0.88,"lo":0.875,"hi":0.885},{"cond":"+ Oil, - O₂","t":3.75,"v":0.935,"lo":0.93,"hi":0.94},{"cond":"+ Oil, - O₂","t":4,"v":0.97,"lo":0.965,"hi":0.975},{"cond":"+ Oil, - O₂","t":4.25,"v":0.995,"lo":0.99,"hi":1.0},{"cond":"+ Oil, - O₂","t":4.5,"v":1.01,"lo":1.005,"hi":1.015},{"cond":"+ Oil, - O₂","t":5,"v":1.02,"lo":1.012,"hi":1.028},{"cond":"+ Oil, - O₂","t":5.5,"v":1.024,"lo":1.014,"hi":1.034},{"cond":"+ Oil, - O₂","t":6,"v":1.025,"lo":1.014,"hi":1.036}
  ]
},
"hconcat": [
  {
    "width": 477, "height": 486,
    "title": {"text": "a", "anchor": "start", "frame": "group", "fontSize": 38, "fontWeight": "bold", "dx": -296, "offset": -17, "baseline": "alphabetic"},
    "resolve": {"axis": {"y": "independent"}},
    "layer": [
      {
        "data": {"name": "violin"},
        "mark": {"type": "area", "color": "#CDF3C4", "interpolate": "monotone", "opacity": 1},
        "encoding": {
          "x": {"field": "x", "type": "quantitative", "scale": {"domain": [16, 28], "nice": false, "zero": false},
                "axis": {"values": [16,18,20,22,24,26,28], "tickSize": 8, "labelFontSize": 28, "labelPadding": 2, "labelFlush": false,
                         "title": ["Biomass Yield", "(Ratio - Final to Initial Biomass)"], "titleFontSize": 27, "titleLineHeight": 40, "titleBaseline": "middle", "titleY": 57}},
          "y": {"field": "lo", "type": "quantitative", "scale": {"domain": [-0.5, 4.5], "nice": false, "zero": false},
                "axis": {"values": [0,1,2,3,4], "tickSize": 10, "labelFontSize": 29.5, "labelPadding": 5, "labelLimit": 400,
                         "labelExpr": "datum.value == 4 ? 'Gas Permeable Film' : datum.value == 3 ? 'Anaerobic Tape' : datum.value == 2 ? 'Aluminium PCR Film' : datum.value == 1 ? 'PolyesterPCR Film' : 'Mineral Oil'",
                         "title": "Seal Type", "titleAngle": 0, "titleAlign": "right", "titleBaseline": "middle", "titleX": -15, "titleY": -19, "titleFontSize": 29.5}},
          "y2": {"field": "hi"},
          "detail": {"field": "s", "type": "nominal"}
        }
      },
      {
        "data": {"name": "box"},
        "mark": {"type": "rule", "color": "black", "strokeWidth": 2},
        "encoding": {
          "x": {"field": "wlo", "type": "quantitative", "scale": {"domain": [16, 28], "nice": false, "zero": false}},
          "x2": {"field": "whi"},
          "y": {"field": "s", "type": "quantitative", "scale": {"domain": [-0.5, 4.5], "nice": false, "zero": false},
                "axis": {"orient": "right", "values": [0,1,2,3,4], "tickSize": 10, "labels": false, "title": null}}
        }
      },
      {
        "data": {"name": "box"},
        "mark": {"type": "rule", "color": "#31962B", "strokeWidth": 17, "strokeCap": "butt"},
        "encoding": {
          "x": {"field": "q1", "type": "quantitative", "scale": {"domain": [16, 28], "nice": false, "zero": false}},
          "x2": {"field": "q3"},
          "y": {"field": "s", "type": "quantitative", "scale": {"domain": [-0.5, 4.5], "nice": false, "zero": false}, "axis": null}
        }
      },
      {
        "data": {"name": "box"},
        "mark": {"type": "tick", "orient": "vertical", "color": "black", "size": 18, "thickness": 4, "opacity": 1},
        "encoding": {
          "x": {"field": "med", "type": "quantitative", "scale": {"domain": [16, 28], "nice": false, "zero": false}},
          "y": {"field": "s", "type": "quantitative", "scale": {"domain": [-0.5, 4.5], "nice": false, "zero": false}, "axis": null}
        }
      },
      {
        "data": {"name": "outliers"},
        "mark": {"type": "point", "filled": true, "color": "#31962B", "size": 75, "opacity": 1},
        "encoding": {
          "x": {"field": "x", "type": "quantitative", "scale": {"domain": [16, 28], "nice": false, "zero": false}},
          "y": {"field": "s", "type": "quantitative", "scale": {"domain": [-0.5, 4.5], "nice": false, "zero": false}, "axis": null}
        }
      }
    ]
  },
  {
    "width": 134, "height": 486,
    "view": {"stroke": null},
    "layer": [
      {
        "data": {"name": "plates"},
        "mark": {"type": "rect", "strokeWidth": 0.7},
        "encoding": {
          "x": {"field": "c", "type": "ordinal", "axis": null, "scale": {"paddingInner": 0, "paddingOuter": 0}},
          "y": {"field": "p", "type": "ordinal", "axis": null, "scale": {"domain": [1,2,3,4,5], "paddingInner": 0.082, "paddingOuter": 0.041}},
          "yOffset": {"field": "r", "type": "ordinal", "scale": {"paddingInner": 0, "paddingOuter": 0}},
          "fill": {"field": "v", "type": "quantitative", "legend": null,
                   "scale": {"domain": [-1.5, 0, 1.5], "range": ["#3262B2", "#F1EFEF", "#D7421E"], "interpolate": "rgb", "clamp": true}},
          "stroke": {"field": "v", "type": "quantitative", "legend": null,
                   "scale": {"domain": [-1.5, 0, 1.5], "range": ["#3262B2", "#F1EFEF", "#D7421E"], "interpolate": "rgb", "clamp": true}}
        }
      },
      {
        "data": {"name": "frames"},
        "mark": {"type": "rect", "filled": false, "stroke": "black", "strokeWidth": 2},
        "encoding": {
          "y": {"field": "p", "type": "ordinal", "axis": null}
        }
      }
    ]
  },
  {
    "width": 17, "height": 486,
    "view": {"stroke": null},
    "data": {"values": [{"lo": -1.5, "hi": 1.5}]},
    "mark": {"type": "rect", "stroke": "black", "strokeWidth": 2,
             "fill": {"gradient": "linear", "x1": 0, "y1": 0, "x2": 0, "y2": 1,
                      "stops": [{"offset": 0, "color": "#D7421E"}, {"offset": 0.5, "color": "#F1EFEF"}, {"offset": 1, "color": "#3262B2"}]}},
    "encoding": {
      "y": {"field": "lo", "type": "quantitative", "scale": {"domain": [-2.575, 2.575], "nice": false, "zero": false},
            "axis": {"orient": "right", "values": [-1.5,-1,-0.5,0,0.5,1,1.5], "format": "~g", "domain": false, "tickSize": 9, "labelFontSize": 28, "labelPadding": 4,
                     "labelExpr": "datum.value >= 1.5 ? '≥1.5' : datum.value <= -1.5 ? '≤-1.5' : datum.label",
                     "title": ["Deviation in Biomass Yield", "from Plate Median"], "titleFontSize": 30, "titleAngle": 90, "titleX": 129, "titleY": 243,
                     "titleAlign": "center", "titleBaseline": "middle", "titleLineHeight": 40}},
      "y2": {"field": "hi"}
    }
  },
  {
    "width": 293, "height": 486,
    "view": {"stroke": null},
    "data": {"values": []},
    "mark": "point"
  },
  {
    "width": 358, "height": 380,
    "title": {"text": "b", "anchor": "start", "frame": "group", "fontSize": 38, "fontWeight": "bold", "dx": -125, "offset": 12, "baseline": "alphabetic"},
    "resolve": {"scale": {"y": "independent"}},
    "layer": [
      {
        "layer": [
          {
            "data": {"name": "phases"},
            "mark": {"type": "rect", "color": "#EEEEEE"},
            "encoding": {
              "x": {"field": "t0", "type": "quantitative", "scale": {"domain": [0, 6], "nice": false, "zero": false},
                    "axis": {"values": [0,1,2,3,4,5,6], "format": "~g", "tickSize": 10, "labelFontSize": 29, "labelPadding": 2, "labelFlush": false,
                             "title": "Time (h)", "titleFontSize": 29, "titleBaseline": "middle", "titleY": 58}},
              "x2": {"field": "t1"}
            }
          },
          {
            "data": {"name": "gridx"},
            "mark": {"type": "rule", "color": "#E0E0E0", "strokeWidth": 2},
            "encoding": {"x": {"field": "t", "type": "quantitative", "scale": {"domain": [0, 6], "nice": false, "zero": false}}}
          },
          {
            "data": {"name": "gridy"},
            "mark": {"type": "rule", "color": "#E0E0E0", "strokeWidth": 2},
            "encoding": {"y": {"field": "g", "type": "quantitative", "scale": {"domain": [0, 2.2], "nice": false, "zero": false},
                    "axis": {"values": [0,0.5,1,1.5,2], "format": "~g", "tickSize": 9, "labelFontSize": 29, "labelPadding": 2,
                             "title": ["Instantaneous Growth Rate", "(1/h)"], "titleFontSize": 30.5, "titleAngle": 270, "titleX": -106, "titleY": 190,
                             "titleAlign": "center", "titleBaseline": "middle", "titleLineHeight": 33}}}
          },
          {
            "data": {"name": "growth"},
            "mark": {"type": "area", "interpolate": "monotone", "opacity": 0.28},
            "encoding": {
              "x": {"field": "t", "type": "quantitative", "scale": {"domain": [0, 6], "nice": false, "zero": false}},
              "y": {"field": "lo", "type": "quantitative", "scale": {"domain": [0, 2.2], "nice": false, "zero": false}},
              "y2": {"field": "hi"},
              "color": {"field": "cond", "type": "nominal",
                        "scale": {"domain": ["- Oil, + O₂", "+ Oil, + O₂", "+ Oil, - O₂"], "range": ["#2F9A2F", "#3767B8", "#DD4A20"]},
                        "legend": {"orient": "none", "legendX": -51, "legendY": 477, "title": null, "symbolType": "square", "symbolSize": 361, "symbolOpacity": 1,
                                   "labelFontSize": 24, "rowPadding": 18, "labelOffset": 20, "padding": 0, "labelLimit": 300,
                                   "encode": {"symbols": {"update": {"opacity": {"value": 1}, "fillOpacity": {"value": 1}, "strokeWidth": {"value": 0}}}}}}
            }
          },
          {
            "data": {"name": "growth"},
            "mark": {"type": "line", "interpolate": "monotone", "strokeWidth": 4},
            "encoding": {
              "x": {"field": "t", "type": "quantitative", "scale": {"domain": [0, 6], "nice": false, "zero": false}},
              "y": {"field": "v", "type": "quantitative", "scale": {"domain": [0, 2.2], "nice": false, "zero": false}},
              "color": {"field": "cond", "type": "nominal",
                        "scale": {"domain": ["- Oil, + O₂", "+ Oil, + O₂", "+ Oil, - O₂"], "range": ["#2F9A2F", "#3767B8", "#DD4A20"]}},
              "strokeDash": {"datum": "Growth Rate", "type": "nominal",
                             "scale": {"domain": ["Growth Rate", "Cell Density"], "range": [[7, 5], [1, 0]]},
                             "legend": {"orient": "none", "legendX": 214, "legendY": 470, "title": null, "symbolType": "stroke", "symbolSize": 1089,
                                        "symbolStrokeWidth": 4, "symbolStrokeColor": "black", "symbolOpacity": 1, "labelFontSize": 24, "rowPadding": 35, "labelOffset": 19,
                                        "padding": 0, "labelLimit": 300,
                                        "labelExpr": "datum.label == 'Growth Rate' ? ['Growth Rate', '(Primary ‘y’)'] : ['Cell Density', '(Secondary ‘y’)']",
                                        "encode": {"symbols": {"update": {"stroke": {"value": "black"}, "strokeWidth": {"value": 4}, "opacity": {"value": 1}}},
                                                   "labels": {"update": {"lineHeight": {"value": 29}, "dy": {"value": -14.5}}}}}}
            }
          },
          {
            "data": {"name": "phaselabels"},
            "mark": {"type": "text", "fontSize": 30, "baseline": "middle", "align": "center", "color": "black"},
            "encoding": {
              "x": {"field": "t", "type": "quantitative", "scale": {"domain": [0, 6], "nice": false, "zero": false}},
              "y": {"field": "g", "type": "quantitative", "scale": {"domain": [0, 2.2], "nice": false, "zero": false}},
              "text": {"field": "txt"}
            }
          }
        ]
      },
      {
        "layer": [
          {
            "data": {"name": "density"},
            "mark": {"type": "area", "interpolate": "monotone", "opacity": 0.28},
            "encoding": {
              "x": {"field": "t", "type": "quantitative", "scale": {"domain": [0, 6], "nice": false, "zero": false}},
              "y": {"field": "lo", "type": "quantitative", "scale": {"domain": [0, 1.1], "nice": false, "zero": false}},
              "y2": {"field": "hi"},
              "color": {"field": "cond", "type": "nominal",
                        "scale": {"domain": ["- Oil, + O₂", "+ Oil, + O₂", "+ Oil, - O₂"], "range": ["#2F9A2F", "#3767B8", "#DD4A20"]}}
            }
          },
          {
            "data": {"name": "density"},
            "mark": {"type": "line", "interpolate": "monotone", "strokeWidth": 4},
            "encoding": {
              "x": {"field": "t", "type": "quantitative", "scale": {"domain": [0, 6], "nice": false, "zero": false}},
              "y": {"field": "v", "type": "quantitative", "scale": {"domain": [0, 1.1], "nice": false, "zero": false},
                    "axis": {"orient": "right", "values": [0,0.25,0.5,0.75,1], "format": "~g", "tickSize": 9, "labelFontSize": 29, "labelPadding": 2,
                             "title": ["Cell Density - OD600", "(a.u.)"], "titleFontSize": 29, "titleAngle": 270, "titleX": 83, "titleY": 190,
                             "titleAlign": "center", "titleBaseline": "middle", "titleLineHeight": 41}},
              "color": {"field": "cond", "type": "nominal",
                        "scale": {"domain": ["- Oil, + O₂", "+ Oil, + O₂", "+ Oil, - O₂"], "range": ["#2F9A2F", "#3767B8", "#DD4A20"]}},
              "strokeDash": {"datum": "Cell Density", "type": "nominal",
                             "scale": {"domain": ["Growth Rate", "Cell Density"], "range": [[7, 5], [1, 0]]}}
            }
          }
        ]
      }
    ]
  }
]
}
